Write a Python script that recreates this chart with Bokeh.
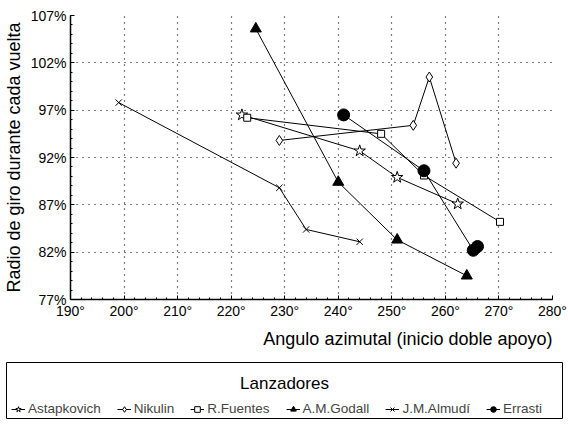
from bokeh.plotting import figure
from bokeh.models import (Range1d, FixedTicker, PrintfTickFormatter, Legend, LegendItem, Label, Title)
from bokeh.layouts import column
from bokeh.embed import file_html
from bokeh.resources import INLINE

# ---- data ----
astap_x = [222.0, 244.0, 251.0, 262.3]
astap_y = [96.5, 92.7, 89.9, 87.1]
nik_x = [229.0, 254.0, 257.0, 262.0]
nik_y = [93.8, 95.4, 100.5, 91.4]
fuen_x = [223.0, 248.0, 256.0, 270.2]
fuen_y = [96.2, 94.5, 90.1, 85.2]
god_x = [224.6, 240.0, 251.0, 264.0]
god_y = [105.6, 89.4, 83.3, 79.5]
alm_x = [199.0, 229.0, 234.0, 244.0]
alm_y = [97.8, 88.8, 84.4, 83.1]
err_x = [241.0, 256.0, 265.2, 266.0]
err_y = [96.5, 90.6, 82.2, 82.6]

x_ticks = [190, 200, 210, 220, 230, 240, 250, 260, 270, 280]
y_ticks = [77, 82, 87, 92, 97, 102, 107]
x_minor = list(range(190, 281, 2))
y_minor = list(range(77, 108, 1))

series_names = ["Astapkovich", "Nikulin", "R.Fuentes", "A.M.Godall", "J.M.Almudí", "Errasti"]
legend_title = "Lanzadores"
x_title = "Angulo azimutal (inicio doble apoyo)"
y_title = "Radio de giro durante cada vuelta"

FONT = "Liberation Sans"

specs = [
    (astap_x, astap_y, "star", 12, "white"),
    (nik_x, nik_y, "diamond", 10, "white"),
    (fuen_x, fuen_y, "square", 7, "white"),
    (god_x, god_y, "triangle", 11, "black"),
    (alm_x, alm_y, "x", 9, "white"),
    (err_x, err_y, "circle", 12, "black"),
]

# ---------------- main chart ----------------
p = figure(width=568, height=356, output_backend="svg", toolbar_location=None,
           x_range=Range1d(190, 280), y_range=Range1d(77, 107),
           min_border_left=70, min_border_right=16, min_border_top=15, min_border_bottom=57)
p.outline_line_color = None
p.frame_align = False

for ax in (p.xaxis[0], p.yaxis[0]):
    ax.axis_line_color = "black"
    ax.axis_line_width = 1.5
    ax.major_tick_in = 4
    ax.major_tick_out = 0
    ax.minor_tick_in = 2
    ax.minor_tick_out = 0
    ax.major_tick_line_color = "black"
    ax.minor_tick_line_color = "black"
    ax.major_label_text_font = FONT
    ax.major_label_text_font_size = "14px"
    ax.major_label_text_color = "black"

p.xaxis.ticker = FixedTicker(ticks=x_ticks, minor_ticks=x_minor)
p.yaxis.ticker = FixedTicker(ticks=y_ticks, minor_ticks=y_minor)
p.xaxis.formatter = PrintfTickFormatter(format="%d°")
p.yaxis.formatter = PrintfTickFormatter(format="%d%%")
p.xaxis.major_label_standoff = 3
p.yaxis.major_label_standoff = 4

p.yaxis.axis_label = y_title
p.yaxis.axis_label_text_font = FONT
p.yaxis.axis_label_text_font_size = "18px"
p.yaxis.axis_label_text_font_style = "normal"
p.yaxis.axis_label_text_color = "black"
p.yaxis.axis_label_standoff = 4

p.add_layout(Title(text=x_title, align="right", text_font=FONT, text_font_size="18px",
                   text_font_style="normal", text_color="black", standoff=10, offset=0), "below")

p.xgrid.grid_line_color = "black"
p.ygrid.grid_line_color = "black"
p.xgrid.grid_line_dash = "1 5"
p.ygrid.grid_line_dash = "1 5"
p.xgrid.grid_line_width = 1.2
p.ygrid.grid_line_width = 1.2

for xs, ys, marker, size, fill in specs:
    p.line(xs, ys, line_color="black", line_width=1)
    p.scatter(xs, ys, marker=marker, size=size, fill_color=fill,
              line_color="black", line_width=1)

# ---------------- legend box ----------------
lg = figure(width=568, height=74, output_backend="svg", toolbar_location=None,
            x_range=Range1d(0, 1), y_range=Range1d(0, 1),
            x_axis_type=None, y_axis_type=None,
            min_border_left=6, min_border_right=6, min_border_top=6, min_border_bottom=12)
lg.frame_align = False
lg.grid.visible = False
lg.outline_line_color = "black"
lg.outline_line_width = 1

items = []
for (xs, ys, marker, size, fill), name in zip(specs, series_names):
    # same series, drawn far outside this box's ranges: only their legend samples show
    ln = lg.line(xs, ys, line_color="black", line_width=1)
    sc = lg.scatter(xs, ys, marker=marker, size=size, fill_color=fill,
                    line_color="black", line_width=1)
    items.append(LegendItem(label=name, renderers=[ln, sc]))

legend = Legend(items=items, orientation="horizontal", location=(5, 2),
                label_text_font=FONT, label_text_font_size="13.5px",
                glyph_width=14, glyph_height=14, label_standoff=3, spacing=16,
                padding=0, margin=0, border_line_color=None,
                background_fill_alpha=0)
lg.add_layout(legend, "center")

lg.add_layout(Label(x=278, y=35, x_units="screen", y_units="screen", text=legend_title,
                    text_align="center", text_baseline="middle",
                    text_font=FONT, text_font_size="17px", text_color="black"))

layout = column(p, lg, spacing=0)
open("out.html", "w").write(file_html(layout, INLINE))
